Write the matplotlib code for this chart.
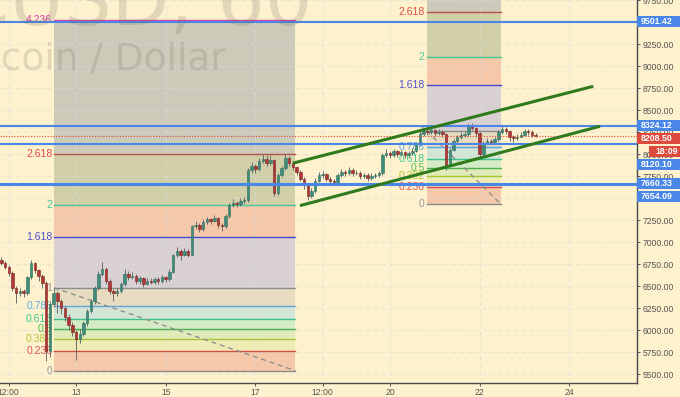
import matplotlib
matplotlib.use('Agg')
import matplotlib.pyplot as plt
import numpy as np
from matplotlib.patches import Rectangle
from matplotlib.transforms import IdentityTransform

# BTCUSD, 2h candles, first candle Nov 11 08:00 (x in days of Nov 2017)
t0 = 11 + 8 / 24
step = 2 / 24
first_open = 6800
closes = [6760, 6720, 6650, 6480, 6420, 6450, 6420, 6600, 6760, 6680,
          6620, 6540, 5760, 6300, 6420, 6330, 6250, 6150, 6060, 5980,
          5900, 5960, 6080, 6220, 6330, 6480, 6640, 6700, 6560, 6450,
          6420, 6440, 6520, 6640, 6600, 6620, 6560, 6590, 6530, 6560,
          6550, 6580, 6560, 6600, 6580, 6660, 6850, 6900, 6860, 6900,
          6860, 7180, 7200, 7150, 7230, 7260, 7240, 7280, 7200, 7180,
          7300, 7420, 7450, 7430, 7470, 7480, 7820, 7870, 7830, 7920,
          7950, 7900, 7930, 7560, 7760, 7840, 7960, 7900, 7850, 7800,
          7720, 7650, 7530, 7580, 7700, 7760, 7770, 7720, 7700, 7680,
          7760, 7800, 7780, 7820, 7780, 7790, 7750, 7760, 7730, 7750,
          7760, 7780, 7990, 8010, 7990, 8030, 8000, 8020, 7990, 8010,
          8040, 8110, 8230, 8260, 8250, 8270, 8240, 8250, 8230, 7880,
          8050, 8150, 8190, 8220, 8230, 8330, 8300, 8240, 8000, 8130,
          8150, 8140, 8170, 8250, 8290, 8260, 8200, 8180, 8200, 8220,
          8260, 8250, 8220, 8208.5]
highs = [6830, 6790, 6740, 6670, 6500, 6480, 6470, 6620, 6800, 6780,
         6700, 6640, 6560, 6320, 6482, 6440, 6360, 6270, 6180, 6090,
         6000, 6010, 6100, 6240, 6360, 6500, 6670, 6775, 6720, 6580,
         6470, 6480, 6550, 6700, 6670, 6660, 6640, 6620, 6610, 6590,
         6590, 6610, 6600, 6630, 6620, 6690, 6870, 6940, 6920, 6930,
         6920, 7200, 7240, 7220, 7260, 7290, 7280, 7310, 7290, 7220,
         7320, 7440, 7490, 7470, 7500, 7510, 7840, 7910, 7890, 7960,
         8000, 7990, 7990, 7940, 7780, 7870, 8000, 7980, 7920, 7870,
         7820, 7740, 7670, 7620, 7730, 7800, 7810, 7790, 7740, 7720,
         7790, 7830, 7820, 7850, 7840, 7820, 7810, 7790, 7780, 7780,
         7790, 7810, 8010, 8060, 8040, 8060, 8050, 8050, 8040, 8040,
         8070, 8140, 8270, 8300, 8290, 8300, 8290, 8290, 8270, 8240,
         8070, 8170, 8220, 8250, 8260, 8355, 8350, 8310, 8250, 8150,
         8180, 8170, 8200, 8270, 8320, 8310, 8270, 8220, 8230, 8250,
         8290, 8280, 8270, 8240]
lows = [6740, 6690, 6620, 6450, 6310, 6390, 6380, 6400, 6580, 6650,
        6560, 6480, 5650, 5700, 6260, 6200, 6180, 6100, 6000, 5930,
        5660, 5860, 5930, 6050, 6200, 6300, 6460, 6620, 6530, 6410,
        6330, 6390, 6420, 6500, 6570, 6580, 6520, 6530, 6490, 6510,
        6520, 6530, 6530, 6540, 6550, 6560, 6650, 6830, 6800, 6840,
        6830, 6850, 7150, 7110, 7130, 7210, 7210, 7230, 7160, 7130,
        7160, 7280, 7400, 7400, 7410, 7440, 7460, 7790, 7790, 7810,
        7900, 7870, 7880, 7520, 7540, 7740, 7820, 7870, 7820, 7760,
        7690, 7600, 7480, 7500, 7560, 7680, 7730, 7690, 7670, 7650,
        7660, 7740, 7750, 7760, 7750, 7760, 7720, 7730, 7700, 7710,
        7730, 7740, 7760, 7970, 7960, 7970, 7970, 7980, 7960, 7970,
        7990, 8020, 8090, 8210, 8220, 8230, 8210, 8220, 8200, 7820,
        7860, 8030, 8130, 8170, 8200, 8210, 8270, 8200, 7960, 7980,
        8110, 8110, 8120, 8150, 8230, 8230, 8150, 8140, 8160, 8190,
        8210, 8220, 8200, 8190]

# fib drawings: (low price, high price, start day, end day)
fib1 = (5541, 6482, 12.516, 17.889)
fib2 = (7428, 8264, 20.819, 22.483)
fib_levels = [0, 0.236, 0.382, 0.5, 0.618, 0.786, 1, 1.618, 2, 2.618, 4.236]
fib_text = ['0', '0.236', '0.382', '0.5', '0.618', '0.786', '1', '1.618', '2', '2.618', '4.236']
fib_line_colors = ['#8c8c8c', '#d94848', '#a5c43a', '#4caf50', '#3cc290', '#5ea4dc',
                   '#8c8c8c', '#4a48c8', '#46c896', '#b85050', '#e040a0']
fib_text_colors = ['#9a9a9a', '#e05252', '#b2c83c', '#4cc04c', '#3cc890', '#5ea8e0',
                   '#9a9a9a', '#5050d0', '#46c896', '#e04848', '#e040b0']
fib_fill_colors = ['#f5c8aa', '#efebb5', '#e0ebb8', '#d5ebc5', '#d3e5d5', '#e8dcc0',
                   '#d9d0d2', '#f5c8aa', '#d0cfa8', '#cccab8']

hline_prices = [9501.42, 8324.12, 8120.10, 7660.33, 7654.09]
last_price = 8208.50
countdown = '18:09'

channel_upper = [(17.838, 7897), (24.534, 8770)]
channel_lower = [(17.994, 7415), (24.683, 8316)]

xtick_pos = [11.5, 13, 15, 17, 18.5, 20, 22, 24]
xtick_lab = ['12:00', '13', '15', '17', '12:00', '20', '22', '24']

bg = '#fdf2cd'
plt.rcParams['font.family'] = ['Liberation Sans', 'DejaVu Sans']

fig = plt.figure(figsize=(6.8, 3.97), dpi=100, facecolor=bg)
ax = fig.add_axes([0, 14 / 397, 637 / 680, 383 / 397])
ax.set_facecolor(bg)
ax.set_xlim(11.305, 25.508)
ax.set_ylim(5401, 9745)

# watermark
wm = (0.45, 0.42, 0.38)
fig.text(313, 372, 'BTCUSD, 60', transform=IdentityTransform(), ha='right', va='baseline',
         fontsize=54, family='DejaVu Sans', color=wm, alpha=0.2, zorder=0.5)
fig.text(226, 327, 'Bitcoin / Dollar', transform=IdentityTransform(), ha='right', va='baseline',
         fontsize=27, family='DejaVu Sans', color=wm, alpha=0.2, zorder=0.5)


def draw_fib(lo, hi, x0, x1):
    rng = hi - lo
    prices = [lo + f * rng for f in fib_levels]
    for k in range(len(prices) - 1):
        ax.fill_between([x0, x1], prices[k], prices[k + 1], color=fib_fill_colors[k], lw=0, zorder=1)
    for k, p in enumerate(prices):
        ax.plot([x0, x1], [p, p], color=fib_line_colors[k], lw=1.0, zorder=3)
        ax.annotate(fib_text[k], (x0, p), xytext=(-1.5, 0), textcoords='offset points',
                    ha='right', va='center', fontsize=7.5, color=fib_text_colors[k], zorder=3)
    ax.plot([x0, x1], [hi, lo], color='#8a8a8a', lw=0.9, ls=(0, (4, 3)), zorder=3)


draw_fib(*fib1)
draw_fib(*fib2)

ax.grid(True, color='#dcdcdc', alpha=0.6, ls=(0, (4, 3)), lw=0.8)
ax.set_axisbelow(False)
for a in ax.get_xgridlines() + ax.get_ygridlines():
    a.set_zorder(2)

for p in hline_prices:
    ax.axhline(p, color='#4a86e8', lw=1.5, zorder=5)
ax.axhline(last_price, color='#e0483a', lw=0.8, ls=(0, (1, 1.5)), zorder=5)

# channel
for seg in (channel_upper, channel_lower):
    ax.plot([seg[0][0], seg[1][0]], [seg[0][1], seg[1][1]], color='#2f7a1c', lw=2.2,
            solid_capstyle='butt', zorder=6)

# candles
opens = [first_open] + closes[:-1]
times = t0 + step * np.arange(len(closes))
ax.vlines(times, lows, highs, color='#6e6e6e', lw=0.7, zorder=4)
up = [c >= o for o, c in zip(opens, closes)]
heights = [max(abs(c - o), 8) for o, c in zip(opens, closes)]
bottoms = [min(o, c) for o, c in zip(opens, closes)]
ax.bar(times, heights, bottom=bottoms, width=0.055,
       color=['#3e8c7a' if u else '#b03535' for u in up],
       edgecolor=['#2f6e60' if u else '#7a2020' for u in up], lw=0.4, zorder=4.5)

# axes styling
for s in ('left', 'top'):
    ax.spines[s].set_visible(False)
for s in ('right', 'bottom'):
    ax.spines[s].set_color('#4a4a4a')
    ax.spines[s].set_linewidth(1)
ax.yaxis.tick_right()
ax.set_yticks(np.arange(5500, 9751, 250))
ax.set_yticklabels(['%.2f' % v for v in np.arange(5500, 9751, 250)])
ax.set_xticks(xtick_pos)
ax.set_xticklabels(xtick_lab)
ax.tick_params(axis='y', length=2.5, width=0.7, pad=1.5, labelsize=6.2, colors='#555555')
ax.tick_params(axis='x', length=2, width=0.7, pad=1.5, labelsize=6.2, colors='#555555')

# price boxes on the right axis (value, text, colour, nudge px, box left px)
boxes = [(9501.42, '9501.42', '#4a86e8', 0, 637),
         (8324.12, '8324.12', '#4a86e8', 0, 637),
         (last_price, '%.2f' % last_price, '#dd4b3e', -2.4, 637),
         (last_price, countdown, '#dd4b3e', -15.7, 649),
         (8120.10, '8120.10', '#4a86e8', -20.5, 637),
         (7660.33, '7660.33', '#4a86e8', 0.8, 637),
         (7654.09, '7654.09', '#4a86e8', -12, 637)]
for val, txt, col, nudge, left in boxes:
    yc = ax.transData.transform((12, val))[1] + nudge
    fig.add_artist(Rectangle((left, yc - 5.5), 680 - left, 11, transform=IdentityTransform(),
                             facecolor=col, edgecolor='none', zorder=5))
    fig.text(left + 4 if left == 637 else left + 6, yc, txt, transform=IdentityTransform(),
             ha='left', va='center', fontsize=6.3, fontweight='bold', color='white', zorder=6)

fig.savefig('out.png', dpi=100, facecolor=bg)
